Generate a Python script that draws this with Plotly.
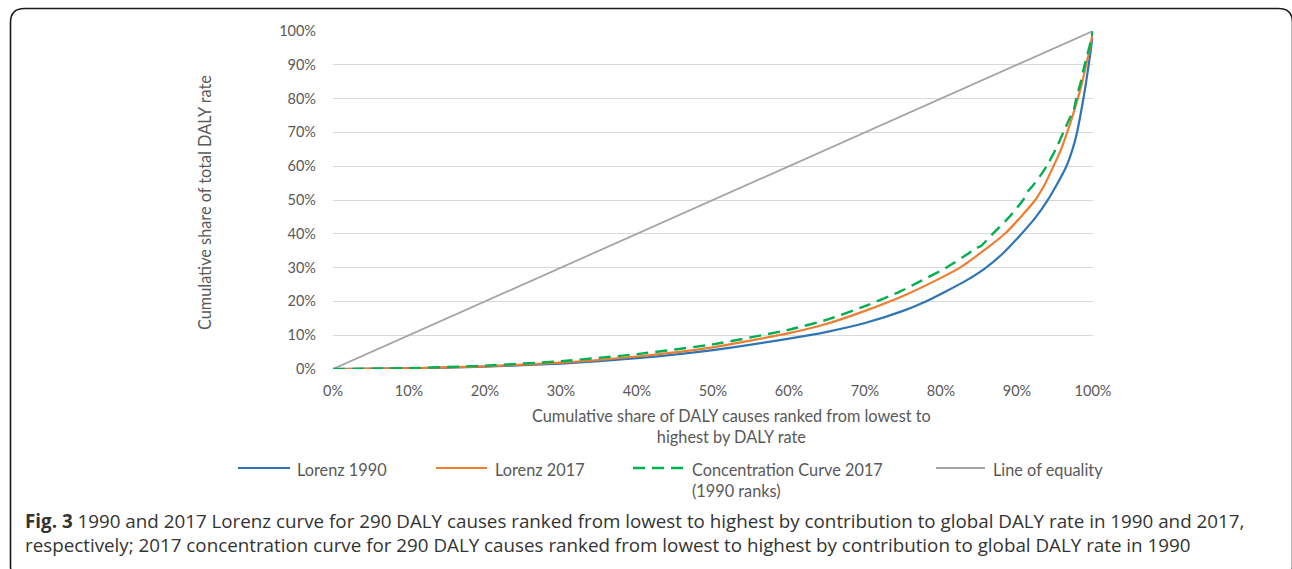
import plotly.graph_objects as go

# Cumulative share of causes (%) and cumulative share of DALY rate (%)
lorenz_1990_x = [0, 10, 20, 30, 40, 50, 60, 65, 70, 75, 78, 80.5, 83.4, 85.8, 88.2, 90.4, 92.5, 94.0, 95.3, 96.5, 97.3, 97.9, 98.5, 99.0, 99.4, 99.75, 100]
lorenz_1990_y = [0, 0.2, 0.7, 1.6, 3.2, 5.6, 9.0, 11.0, 13.6, 17.2, 20.0, 22.8, 26.3, 29.8, 34.3, 39.5, 45.0, 49.8, 54.8, 60.0, 65.0, 70.0, 77.0, 83.5, 89.5, 95.0, 100]

lorenz_2017_x = [0, 10, 20, 30, 40, 50, 60, 65, 70, 75, 79.4, 82.5, 85.6, 88.4, 90.5, 92.4, 93.7, 94.8, 95.8, 96.6, 97.4, 98.0, 98.6, 99.1, 99.6, 100]
lorenz_2017_y = [0, 0.2, 0.8, 1.9, 3.7, 6.4, 10.6, 13.4, 17.2, 21.6, 26.3, 30.0, 35.0, 40.0, 45.0, 50.0, 54.8, 60.0, 65.0, 70.0, 75.5, 80.0, 85.0, 90.0, 95.0, 100]

conc_2017_x = [0, 10, 20, 30, 40, 50, 60, 65, 70, 74.6, 77.5, 80.7, 83.5, 84.6, 85.2, 86.8, 89.0, 90.8, 91.5, 92.0, 93.0, 93.9, 95.1, 96.1, 97.0, 97.4, 97.8, 98.4, 98.9, 99.5, 100]
conc_2017_y = [0, 0.25, 1.0, 2.3, 4.4, 7.3, 11.6, 14.6, 18.6, 22.9, 26.2, 30.0, 34.0, 35.8, 36.3, 40.0, 45.0, 50.0, 52.8, 54.0, 57.0, 60.0, 65.0, 70.0, 74.5, 76.0, 80.0, 85.0, 90.0, 95.0, 100]

equality_x = [0, 100]
equality_y = [0, 100]

series_names = ["Lorenz 1990", "Lorenz 2017", "Concentration Curve 2017<br>(1990 ranks)", "Line of equality"]
series_colors = ["#2E75B6", "#ED7D31", "#00B050", "#A5A5A5"]
series_dash = ["solid", "solid", "12px,7px", "solid"]
series_width = [2.2, 2.2, 2.4, 1.8]

tick_vals = [0, 10, 20, 30, 40, 50, 60, 70, 80, 90, 100]
tick_text = [f"{v}%" for v in tick_vals]

x_title = "Cumulative share of DALY causes ranked from lowest to<br>highest by DALY rate"
y_title = "Cumulative share of total DALY rate"
caption_1 = ("<b>Fig. 3</b> 1990 and 2017 Lorenz curve for 290 DALY causes ranked from lowest to highest "
             "by contribution to global DALY rate in 1990 and 2017,")
caption_2 = ("respectively; 2017 concentration curve for 290 DALY causes ranked from lowest to highest "
             "by contribution to global DALY rate in 1990")

# Page geometry (pixels)
W, H = 1292, 569
PL, PR, PT, PB = 333, 1093, 31, 369


def px(x):
    return (x - PL) / (PR - PL)


def py(y):
    return (PB - y) / (PB - PT)


CHART_FONT = "Lato, 'Liberation Sans', sans-serif"
CAPTION_FONT = "'Open Sans', 'Noto Sans', sans-serif"
TXT = "#595959"
LABEL_SIZE = 16.3

fig = go.Figure()
curves = [
    (equality_x, equality_y, 3),
    (lorenz_1990_x, lorenz_1990_y, 0),
    (lorenz_2017_x, lorenz_2017_y, 1),
    (conc_2017_x, conc_2017_y, 2),
]
for xs, ys, i in curves:
    fig.add_trace(go.Scatter(
        x=xs, y=ys, mode="lines", name=series_names[i],
        line=dict(color=series_colors[i], width=series_width[i], dash=series_dash[i],
                  shape="spline", smoothing=0.5),
        showlegend=False, hoverinfo="skip",
    ))

axis_common = dict(
    range=[0, 100], tickvals=tick_vals, ticktext=tick_text,
    gridcolor="#D9D9D9", gridwidth=1.3,
    zeroline=False, showline=False, ticks="",
    tickfont=dict(family=CHART_FONT, size=14.5, color=TXT),
    fixedrange=True,
)
fig.update_xaxes(**axis_common, showgrid=False, ticklabelstandoff=11)
fig.update_yaxes(**axis_common, showgrid=True, ticklabelstandoff=16)

shapes = []
annotations = []

# Axis titles
annotations.append(dict(
    xref="paper", yref="paper", x=px(731), y=py(425.5), xanchor="center", yanchor="middle",
    text=x_title, showarrow=False, align="center",
    font=dict(family=CHART_FONT, size=LABEL_SIZE, color=TXT),
))
annotations.append(dict(
    xref="paper", yref="paper", x=px(205), y=py(203), xanchor="center", yanchor="middle",
    text=y_title, textangle=-90, showarrow=False,
    font=dict(family=CHART_FONT, size=LABEL_SIZE, color=TXT),
))

# Legend row
legend_items = [
    (238, 290, 295, 0),
    (436, 487, 493, 1),
    (633, 685, 690, 2),
    (936, 985, 991, 3),
]
LEG_Y = 468
for x0, x1, tx, i in legend_items:
    shapes.append(dict(
        type="line", xref="paper", yref="paper",
        x0=px(x0), x1=px(x1), y0=py(LEG_Y), y1=py(LEG_Y),
        line=dict(color=series_colors[i], width=series_width[i], dash=series_dash[i]),
    ))
    annotations.append(dict(
        xref="paper", yref="paper", x=px(tx), y=py(LEG_Y - 10.5), xanchor="left", yanchor="top",
        text=series_names[i], showarrow=False, align="left",
        font=dict(family=CHART_FONT, size=LABEL_SIZE, color=TXT),
    ))

# Caption
for y, txt in [(521, caption_1), (545, caption_2)]:
    annotations.append(dict(
        xref="paper", yref="paper", x=px(23), y=py(y), xanchor="left", yanchor="middle",
        text=txt, showarrow=False, align="left",
        font=dict(family=CAPTION_FONT, size=18.8, color="#333333"),
    ))

# Rounded frame around the figure
bx0, by0, bx1, by1, r = 10.5, 8.5, 1292.5, 580, 14
frame = (
    f"M {px(bx0)},{py(by0 + r)} "
    f"Q {px(bx0)},{py(by0)} {px(bx0 + r)},{py(by0)} "
    f"L {px(bx1 - r)},{py(by0)} "
    f"Q {px(bx1)},{py(by0)} {px(bx1)},{py(by0 + r)} "
    f"L {px(bx1)},{py(by1 - r)} "
    f"Q {px(bx1)},{py(by1)} {px(bx1 - r)},{py(by1)} "
    f"L {px(bx0 + r)},{py(by1)} "
    f"Q {px(bx0)},{py(by1)} {px(bx0)},{py(by1 - r)} Z"
)
shapes.append(dict(type="path", xref="paper", yref="paper", path=frame,
                   line=dict(color="#1a1a1a", width=1.6), layer="above"))

fig.update_layout(
    width=W, height=H,
    margin=dict(l=PL, r=W - PR, t=PT, b=H - PB),
    paper_bgcolor="white", plot_bgcolor="white",
    shapes=shapes, annotations=annotations,
    showlegend=False,
)

fig.write_html("out.html")
